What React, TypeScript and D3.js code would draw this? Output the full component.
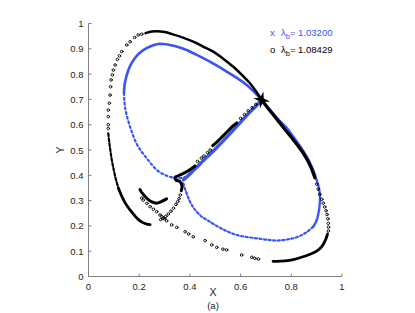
import * as d3 from "d3";

type Pt = [number, number];

const xTicks = [0, 0.2, 0.4, 0.6, 0.8, 1];
const yTicks = [0, 0.1, 0.2, 0.3, 0.4, 0.5, 0.6, 0.7, 0.8, 0.9, 1];

// lambda_b = 1.03200 (blue "x" markers), dense and sparse runs
const blueUpperArc: Pt[] = [
  [0.683, 0.698], [0.655, 0.728], [0.624, 0.757], [0.585, 0.785], [0.545, 0.81],
  [0.505, 0.834], [0.466, 0.856], [0.425, 0.877], [0.387, 0.895], [0.35, 0.908],
  [0.321, 0.915], [0.295, 0.919], [0.275, 0.919], [0.245, 0.91], [0.216, 0.895],
  [0.19, 0.872], [0.17, 0.843], [0.157, 0.815], [0.148, 0.785], [0.142, 0.755],
  [0.14, 0.725],
];
const blueLeftDrop: Pt[] = [
  [0.14, 0.725], [0.141, 0.7], [0.144, 0.671], [0.152, 0.632], [0.164, 0.592],
  [0.178, 0.552], [0.196, 0.513], [0.212, 0.49], [0.23, 0.467], [0.245, 0.448],
  [0.262, 0.428], [0.28, 0.413], [0.302, 0.401], [0.325, 0.393], [0.348, 0.388],
  [0.37, 0.39], [0.387, 0.394],
];
const blueDiagonal: Pt[] = [
  [0.375, 0.382], [0.4, 0.405], [0.43, 0.435], [0.453, 0.458], [0.48, 0.484],
  [0.506, 0.51], [0.54, 0.545], [0.57, 0.578], [0.6, 0.61], [0.63, 0.643],
  [0.66, 0.673], [0.683, 0.698],
];
const blueLoopBottom: Pt[] = [
  [0.374, 0.368], [0.38, 0.348], [0.387, 0.329], [0.396, 0.305], [0.407, 0.283],
  [0.425, 0.258], [0.447, 0.236], [0.47, 0.222], [0.492, 0.208], [0.52, 0.192],
  [0.55, 0.177], [0.585, 0.164], [0.625, 0.156], [0.664, 0.151], [0.7, 0.146],
  [0.742, 0.142], [0.78, 0.146], [0.821, 0.155], [0.857, 0.173], [0.887, 0.197],
];
const blueLoopRight: Pt[] = [
  [0.887, 0.197], [0.9, 0.222], [0.907, 0.25], [0.912, 0.285], [0.913, 0.315],
  [0.909, 0.35], [0.9, 0.381], [0.885, 0.425], [0.861, 0.474], [0.835, 0.515],
  [0.808, 0.553], [0.78, 0.59], [0.755, 0.615], [0.72, 0.655], [0.683, 0.698],
];

// lambda_b = 1.08429 (black "o" markers): thick = dense runs, dots = sparse runs
const blackTopArc: Pt[] = [
  [0.225, 0.962], [0.25, 0.968], [0.27, 0.969], [0.3, 0.966], [0.33, 0.958],
  [0.37, 0.945], [0.413, 0.928], [0.45, 0.91], [0.492, 0.889], [0.53, 0.862],
  [0.571, 0.829], [0.61, 0.792], [0.637, 0.764], [0.66, 0.733], [0.683, 0.698],
];
const blackRightArc: Pt[] = [
  [0.683, 0.698], [0.72, 0.65], [0.76, 0.6], [0.8, 0.55], [0.835, 0.505],
  [0.861, 0.465], [0.878, 0.43], [0.893, 0.39],
];
const blackBottomArc: Pt[] = [
  [0.943, 0.168], [0.935, 0.145], [0.92, 0.118], [0.9, 0.1], [0.874, 0.088],
  [0.84, 0.076], [0.808, 0.067], [0.775, 0.062], [0.742, 0.06], [0.728, 0.06],
];
const blackLeftMid: Pt[] = [
  [0.078, 0.566], [0.082, 0.53], [0.086, 0.5], [0.092, 0.46], [0.1, 0.42],
  [0.107, 0.388], [0.118, 0.349],
];
const blackLeftLower: Pt[] = [
  [0.118, 0.349], [0.13, 0.32], [0.145, 0.29], [0.164, 0.263],
  [0.18, 0.243], [0.196, 0.226], [0.215, 0.213], [0.23, 0.207], [0.243, 0.205],
];
const blackHook: Pt[] = [
  [0.203, 0.344], [0.21, 0.332], [0.222, 0.318], [0.235, 0.305], [0.25, 0.295],
  [0.268, 0.29], [0.285, 0.295], [0.308, 0.307],
];
const blackSquiggle: Pt[] = [
  [0.42, 0.437], [0.387, 0.414], [0.354, 0.398], [0.341, 0.392], [0.345, 0.381],
  [0.361, 0.375], [0.369, 0.358], [0.366, 0.339],
];
const blackDiagThick: Pt[] = [
  [0.49, 0.517], [0.51, 0.535], [0.53, 0.555], [0.55, 0.575], [0.57, 0.595],
  [0.585, 0.607],
];
const blackDots: Pt[] = [
  // right side, sparse
  [0.9, 0.365], [0.906, 0.345], [0.912, 0.325], [0.92, 0.305], [0.926, 0.29],
  [0.932, 0.275], [0.937, 0.26], [0.941, 0.245], [0.944, 0.228], [0.946, 0.21],
  [0.947, 0.195], [0.946, 0.18],
  // bottom trail
  [0.67, 0.069], [0.656, 0.072], [0.644, 0.076], [0.604, 0.085], [0.545, 0.105],
  [0.53, 0.108], [0.506, 0.115], [0.486, 0.125], [0.46, 0.142], [0.413, 0.157],
  [0.395, 0.168], [0.381, 0.177], [0.348, 0.194], [0.328, 0.204], [0.308, 0.22],
  [0.3, 0.228], [0.29, 0.236], [0.282, 0.243], [0.269, 0.256], [0.256, 0.266],
  [0.243, 0.276], [0.23, 0.289], [0.216, 0.302], [0.21, 0.31],
  // upper left
  [0.21, 0.958], [0.196, 0.955], [0.182, 0.945], [0.164, 0.928], [0.151, 0.915],
  [0.131, 0.889], [0.122, 0.872], [0.114, 0.858], [0.105, 0.836], [0.098, 0.816],
  [0.094, 0.797], [0.089, 0.777], [0.087, 0.75], [0.085, 0.717], [0.082, 0.685],
  [0.078, 0.658], [0.078, 0.632], [0.078, 0.6], [0.078, 0.585],
  // below squiggle
  [0.362, 0.322], [0.357, 0.308], [0.352, 0.296], [0.345, 0.285], [0.335, 0.27],
  [0.325, 0.258], [0.315, 0.247], [0.305, 0.238], [0.295, 0.23], [0.285, 0.225],
  // along the diagonal
  [0.43, 0.455], [0.445, 0.468], [0.455, 0.476], [0.47, 0.49], [0.48, 0.5],
  [0.6, 0.625], [0.615, 0.64], [0.63, 0.655], [0.645, 0.667], [0.66, 0.68],
];
const fixedPoint: Pt = [0.683, 0.698];

const W = 415;
const H = 313;
const BLUE = "#3a55f4";
const FONT = "'Liberation Sans', Arial, Helvetica, sans-serif";

export default function App() {
  const x = d3.scaleLinear().domain([0, 1]).range([88.5, 342]);
  const y = d3.scaleLinear().domain([0, 1]).range([276.5, 23.5]);

  const line = d3.line<Pt>()
    .x((d) => x(d[0]))
    .y((d) => y(d[1]))
    .curve(d3.curveCatmullRom);

  // 4-pointed star where all branches meet
  const starPts: [number, number][] = d3.range(8).map((i) => [
    (i * Math.PI) / 4 + 0.2,
    i % 2 === 0 ? 8.5 : 2.6,
  ]);
  const star = d3.lineRadial().curve(d3.curveLinearClosed)(starPts) as string;

  return (
    <svg
      width={W}
      height={H}
      style={{ position: "absolute", left: 0, top: 0, background: "#fff" }}
      fontFamily={FONT}
    >
      {/* blue series */}
      <g fill="none" stroke={BLUE} strokeLinecap="round">
        <path d={line(blueUpperArc)!} strokeWidth={2.6} />
        <path d={line(blueLeftDrop)!} strokeWidth={2.2} strokeDasharray="2 2.8" />
        <path d={line(blueDiagonal)!} strokeWidth={3.4} />
        <path d={line(blueLoopBottom)!} strokeWidth={2.2} strokeDasharray="2.2 2.4" />
        <path d={line(blueLoopRight)!} strokeWidth={2.4} strokeDasharray="4 1.2" />
      </g>

      {/* black series */}
      <g fill="none" stroke="#000" strokeLinecap="round" strokeLinejoin="round">
        <path d={line(blackTopArc)!} strokeWidth={2.5} />
        <path d={line(blackRightArc)!} strokeWidth={3.2} />
        <path d={line(blackBottomArc)!} strokeWidth={2.8} />
        <path d={line(blackLeftMid)!} strokeWidth={2.2} strokeDasharray="3 2" />
        <path d={line(blackLeftLower)!} strokeWidth={2.8} />
        <path d={line(blackHook)!} strokeWidth={3} />
        <path d={line(blackSquiggle)!} strokeWidth={3} />
        <path d={line(blackDiagThick)!} strokeWidth={3} />
        {blackDots.map((d, i) => (
          <circle key={i} cx={x(d[0])} cy={y(d[1])} r={1.3} strokeWidth={0.9} />
        ))}
      </g>
      <path
        d={star}
        transform={`translate(${x(fixedPoint[0])},${y(fixedPoint[1])})`}
        fill="#000"
      />

      {/* axes */}
      <g stroke="#808080" strokeWidth={1} fill="none">
        <line x1={x(0)} x2={x(1)} y1={y(0)} y2={y(0)} />
        <line x1={x(0)} x2={x(0)} y1={y(0)} y2={y(1)} />
        {xTicks.map((t) => (
          <line key={t} x1={x(t)} x2={x(t)} y1={y(0)} y2={y(0) - 3} />
        ))}
        {yTicks.map((t) => (
          <line key={t} x1={x(0)} x2={x(0) + 3} y1={y(t)} y2={y(t)} />
        ))}
      </g>
      <g fontSize={9.5} fill="#222">
        {xTicks.map((t) => (
          <text key={t} x={x(t)} y={y(0) + 13} textAnchor="middle">
            {String(t)}
          </text>
        ))}
        {yTicks.map((t) => (
          <text key={t} x={x(0) - 5} y={y(t) + 3.5} textAnchor="end">
            {String(t)}
          </text>
        ))}
      </g>
      <text x={213} y={296} fontSize={10.5} textAnchor="middle" fill="#222">X</text>
      <text
        transform={`translate(64,${y(0.5)}) rotate(-90)`}
        fontSize={10.5}
        textAnchor="middle"
        fill="#222"
      >
        Y
      </text>
      <text x={213} y={309} fontSize={9.5} textAnchor="middle" fill="#222">(a)</text>

      {/* legend */}
      <g fontSize={9.5}>
        <text x={270} y={36} fill={BLUE}>
          x
          <tspan x={281}>λ</tspan>
          <tspan fontSize={7.5} dy={3}>b</tspan>
          <tspan dy={-3}>= 1.03200</tspan>
        </text>
        <text x={270} y={53} fill="#000">
          o
          <tspan x={281}>λ</tspan>
          <tspan fontSize={7.5} dy={3}>b</tspan>
          <tspan dy={-3}>= 1.08429</tspan>
        </text>
      </g>
    </svg>
  );
}
